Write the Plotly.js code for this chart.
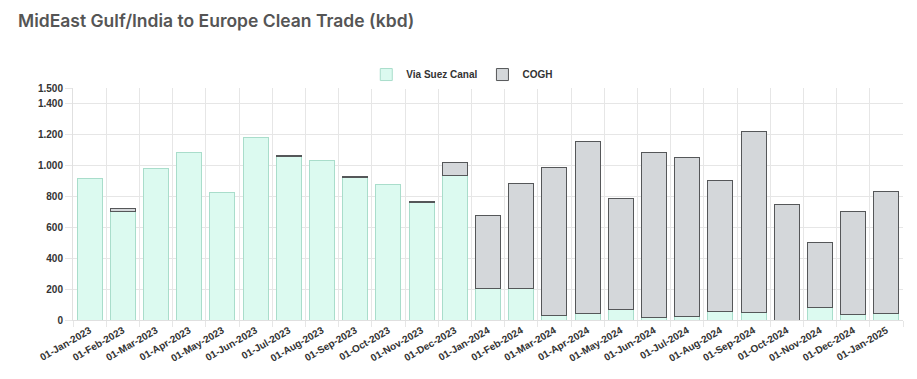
<!DOCTYPE html>
<html>
<head>
<meta charset="utf-8">
<script src="https://cdn.plot.ly/plotly-3.0.1.min.js"></script>
<style>html,body{margin:0;padding:0;background:#fff;}#chart{width:917px;height:379px;}</style>
</head>
<body>
<div id="chart"></div>
<script>
const categories = ["01-Jan-2023","01-Feb-2023","01-Mar-2023","01-Apr-2023","01-May-2023","01-Jun-2023","01-Jul-2023","01-Aug-2023","01-Sep-2023","01-Oct-2023","01-Nov-2023","01-Dec-2023","01-Jan-2024","01-Feb-2024","01-Mar-2024","01-Apr-2024","01-May-2024","01-Jun-2024","01-Jul-2024","01-Aug-2024","01-Sep-2024","01-Oct-2024","01-Nov-2024","01-Dec-2024","01-Jan-2025"];
const suezValues = [912, 700, 980, 1083, 827, 1180, 1056, 1034, 922, 879, 757, 932, 205, 205, 30, 40, 70, 15, 25, 55, 50, 0, 80, 35, 42];
const coghValues = [0, 22, 0, 0, 0, 0, 10, 0, 8, 0, 10, 89, 473, 678, 956, 1114, 714, 1068, 1026, 845, 1171, 745, 422, 669, 787];
const yTickVals = [0, 200, 400, 600, 800, 1000, 1200, 1400, 1500];

const tickFont = {family: "Arial, 'Liberation Sans', sans-serif", size: 10, color: "#333", weight: "bold"};
// zero-height segments are not drawn (no outline on empty bars)
const noZero = arr => arr.map(v => v === 0 ? null : v);

const traces = [
  {
    type: "bar", name: "Via Suez Canal", x: categories, y: noZero(suezValues),
    marker: {color: "#dcfaf0", line: {color: "#a9ddcb", width: 1}},
    hoverinfo: "x+y"
  },
  {
    type: "bar", name: "COGH", x: categories, y: noZero(coghValues),
    marker: {color: "#d4d7da", line: {color: "#555759", width: 1}},
    hoverinfo: "x+y"
  }
];

const layout = {
  width: 917, height: 379,
  margin: {l: 73, r: 14, t: 88, b: 59},
  paper_bgcolor: "#fff", plot_bgcolor: "#fff",
  separators: ",.",
  barmode: "stack", bargap: 0.25,
  showlegend: true,
  title: {
    text: "MidEast Gulf/India to Europe Clean Trade (kbd)",
    xref: "container", yref: "container", x: 18/917, xanchor: "left", y: 1 - 21/379, yanchor: "middle",
    font: {family: "Inter, 'Open Sans', sans-serif", size: 17.5, color: "#555", weight: 600}
  },
  legend: {
    orientation: "h", x: 0.469, xanchor: "center", y: 1.058, yanchor: "middle",
    font: {family: "Arial, 'Liberation Sans', sans-serif", size: 10, color: "#333", weight: "bold"},
    traceorder: "normal", itemwidth: 30
  },
  xaxis: {
    type: "category", tickangle: -30, tickfont: tickFont,
    tickson: "boundaries", ticks: "outside", ticklen: 6, tickcolor: "#e6e6e6",
    showgrid: true, gridcolor: "#e6e6e6", gridwidth: 1,
    showline: true, linecolor: "#e0e0e0", linewidth: 1,
    automargin: false, fixedrange: true
  },
  yaxis: {
    range: [0, 1500], tickmode: "array", tickvals: yTickVals, tickformat: ",d",
    tickfont: tickFont, ticks: "outside", ticklen: 7, tickcolor: "#e6e6e6",
    showgrid: true, gridcolor: "#e6e6e6", gridwidth: 1,
    showline: true, linecolor: "#e0e0e0", linewidth: 1,
    zeroline: false, automargin: false, fixedrange: true
  }
};

Plotly.newPlot("chart", traces, layout, {displayModeBar: false, staticPlot: true});
</script>
</body>
</html>
